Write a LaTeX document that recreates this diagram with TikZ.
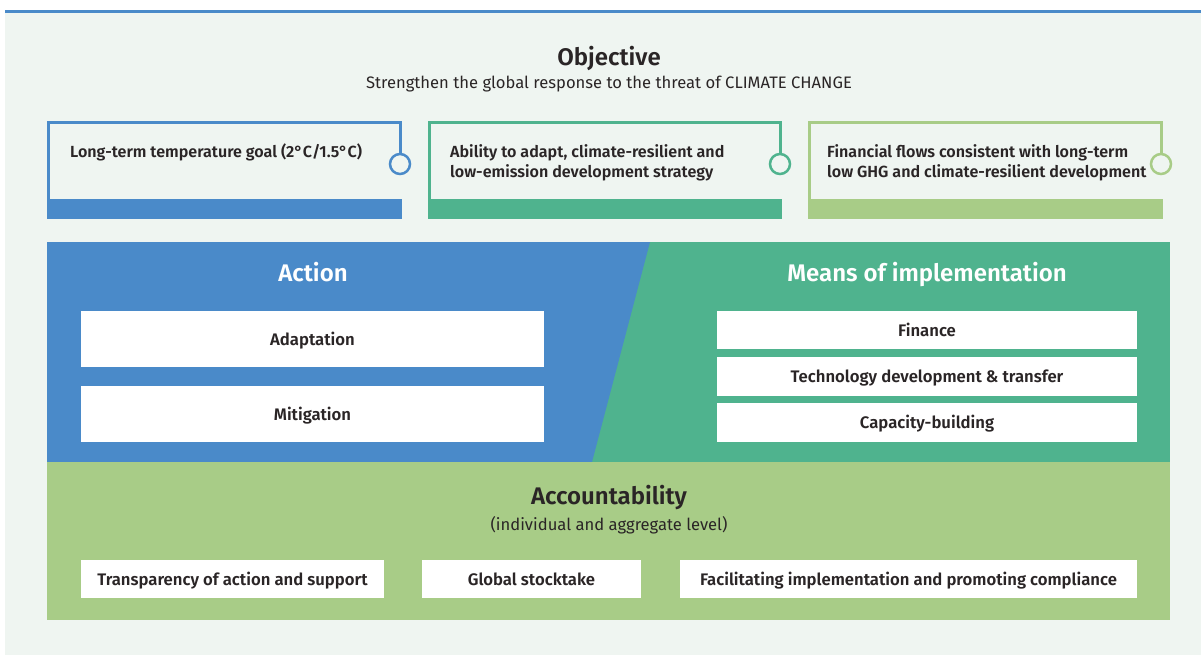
\documentclass[tikz,border=0pt]{standalone}
\usepackage{fontspec}
\setmainfont{Fira Sans}[BoldFont={Fira Sans SemiBold}]
\definecolor{cblue}{HTML}{4A8AC9}
\definecolor{cgreen}{HTML}{4FB38E}
\definecolor{clight}{HTML}{A8CC87}
\definecolor{cbg}{HTML}{EFF5F1}
\definecolor{ctext}{HTML}{2A2526}
\tikzset{
  title/.style={font=\fontsize{24}{28}\selectfont\bfseries, text=ctext, inner sep=0pt, text height=17pt, text depth=0pt},
  sub/.style={font=\fontsize{16.6}{19}\selectfont, text=ctext, inner sep=0pt, text height=12pt, text depth=0pt},
  goaltext/.style={font=\fontsize{16.1}{20}\selectfont\bfseries, text=ctext, align=left, anchor=north west, inner sep=0pt},
  ring/.style={circle, line width=2.5pt, fill=cbg, minimum size=20pt, inner sep=0pt},
  whitebox/.style={fill=white, font=\fontsize{16.7}{19}\selectfont\bfseries, text=ctext, inner sep=0pt, text height=12pt, text depth=0pt},
  paneltitle/.style={font=\fontsize{24}{28}\selectfont\bfseries, text=white, inner sep=0pt, text height=17pt, text depth=0pt},
}
\begin{document}
\begin{tikzpicture}[x=1pt,y=-1pt]
\useasboundingbox (0,0) rectangle (1201,655);
\fill[white] (0,0) rectangle (1201,655);
\fill[cbg] (4.5,12) rectangle (1201,655);
\fill[cblue] (4.5,10.5) rectangle (1201,13.5);

% Objective
\node[title] (obj) at (609,57) {Objective};
\node[sub] (objsub) at (609,83) {Strengthen the global response to the threat of CLIMATE CHANGE};

% Goal boxes
\foreach \i/\xl/\xr/\col in {1/47/402/cblue, 2/428/782/cgreen, 3/808/1163/clight}{
  \fill[\col] (\xl,199) rectangle (\xr,219);
  \node[ring, draw=\col] (ring\i) at (\xr-2,164) {};
  \draw[\col, line width=3pt] (ring\i.north) -- (\xr-2,122.5) -- (\xl+1.5,122.5) -- (\xl+1.5,199);
}
\node[goaltext] (g1) at (70,144) {Long-term temperature goal (2°C/1.5°C)};
\node[goaltext] (g2) at (450,144) {Ability to adapt, climate-resilient and\\low-emission development strategy};
\node[goaltext] (g3) at (827,144) {Financial flows consistent with long-term\\low GHG and climate-resilient development};

% Middle panel
\fill[cgreen] (592,242) rectangle (1170,462);
\fill[cblue] (47,242) -- (650,242) -- (592,462) -- (47,462) -- cycle;
\node[paneltitle] (action) at (313,273) {Action};
\node[paneltitle] (means) at (927,273) {Means of implementation};

\node[whitebox, minimum width=463pt, minimum height=56pt] (adapt) at (312.5,339) {Adaptation};
\node[whitebox, minimum width=463pt, minimum height=56pt] (mitig) at (312.5,414) {Mitigation};

\node[whitebox, minimum width=420pt, minimum height=38pt] (fin) at (927,330) {Finance};
\node[whitebox, minimum width=420pt, minimum height=39pt] (tech) at (927,376.5) {Technology development \& transfer};
\node[whitebox, minimum width=420pt, minimum height=39pt] (cap) at (927,422.5) {Capacity-building};

% Accountability
\fill[clight] (47,462) rectangle (1170,620);
\node[title] (acc) at (609,496) {Accountability};
\node[sub] (accsub) at (609,524) {(individual and aggregate level)};

\node[whitebox, minimum width=303pt, minimum height=38pt] (transp) at (232.5,579) {Transparency of action and support};
\node[whitebox, minimum width=219pt, minimum height=38pt] (gst) at (531.5,579) {Global stocktake};
\node[whitebox, minimum width=457pt, minimum height=38pt] (facil) at (908.5,579) {Facilitating implementation and promoting compliance};
\end{tikzpicture}
\end{document}
